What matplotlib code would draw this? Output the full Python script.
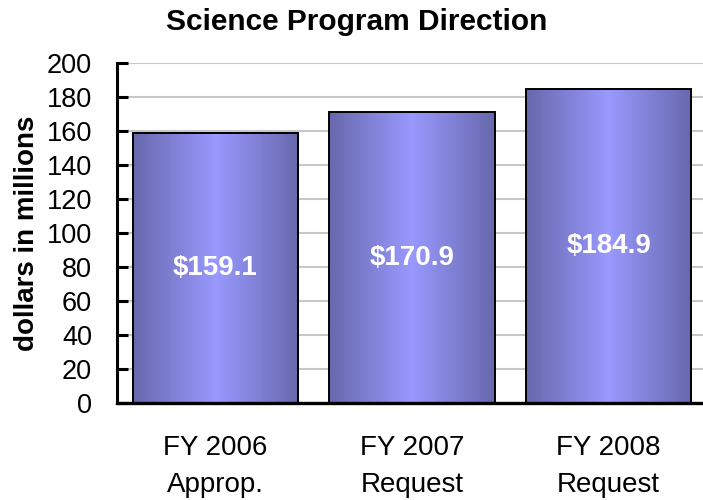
import numpy as np
import matplotlib
matplotlib.use("Agg")
import matplotlib.pyplot as plt
from matplotlib.colors import LinearSegmentedColormap

categories = ["FY 2006\nApprop.", "FY 2007\nRequest", "FY 2008\nRequest"]
values = [159.1, 170.9, 184.9]
labels = ["$159.1", "$170.9", "$184.9"]
yticks = [0, 20, 40, 60, 80, 100, 120, 140, 160, 180, 200]

plt.rcParams['font.family'] = ['Liberation Sans', 'DejaVu Sans']

W, H = 703, 500
fig = plt.figure(figsize=(W / 100, H / 100), dpi=100)
ax = fig.add_axes([117 / W, 1 - 403 / H, 590 / W, 340 / H])

x = np.arange(len(values))
bw = 0.84
cmap = LinearSegmentedColormap.from_list("g", ["#6868AC", "#9999FF", "#6868AC"])
grad = np.linspace(0, 1, 256).reshape(1, -1)

bars = ax.bar(x, values, width=bw, facecolor="none", edgecolor="black", linewidth=1.4, zorder=3)
for b in bars:
    x0, y0 = b.get_x(), b.get_y()
    w, h = b.get_width(), b.get_height()
    im = ax.imshow(grad, cmap=cmap, aspect="auto", extent=(x0, x0 + w, y0, y0 + h),
                   zorder=2, interpolation="bicubic")
    im.set_clip_path(b)

for xi, v, lab in zip(x, values, labels):
    ax.text(xi, v / 2, lab, ha="center", va="center", color="white",
            fontsize=20, fontweight="bold", zorder=4)

ax.set_xlim(-0.5, 2.5)
ax.set_ylim(0, 200)
ax.set_yticks(yticks)
ax.set_yticklabels([str(t) for t in yticks], fontsize=19.5)
ax.set_xticks(x)
ax.set_xticklabels(categories, fontsize=20, linespacing=1.55)
ax.tick_params(axis="x", length=0, pad=23)
ax.tick_params(axis="y", direction="in", length=8, width=2.2, pad=18)
ax.yaxis.grid(True, color="#C8C8C8", linewidth=1.5, zorder=0)
ax.set_axisbelow(True)
for s in ["top", "right"]:
    ax.spines[s].set_visible(False)
ax.spines["left"].set_linewidth(2.2)
ax.spines["bottom"].set_linewidth(2.4)

fig.text(357 / W, 1 - 22 / H, "Science Program Direction", ha="center", va="center",
         fontsize=21.5, fontweight="bold")
fig.text(27 / W, 1 - 233 / H, "dollars in millions", ha="center", va="center",
         rotation=90, fontsize=20, fontweight="bold")

fig.savefig("out.png", dpi=100)
